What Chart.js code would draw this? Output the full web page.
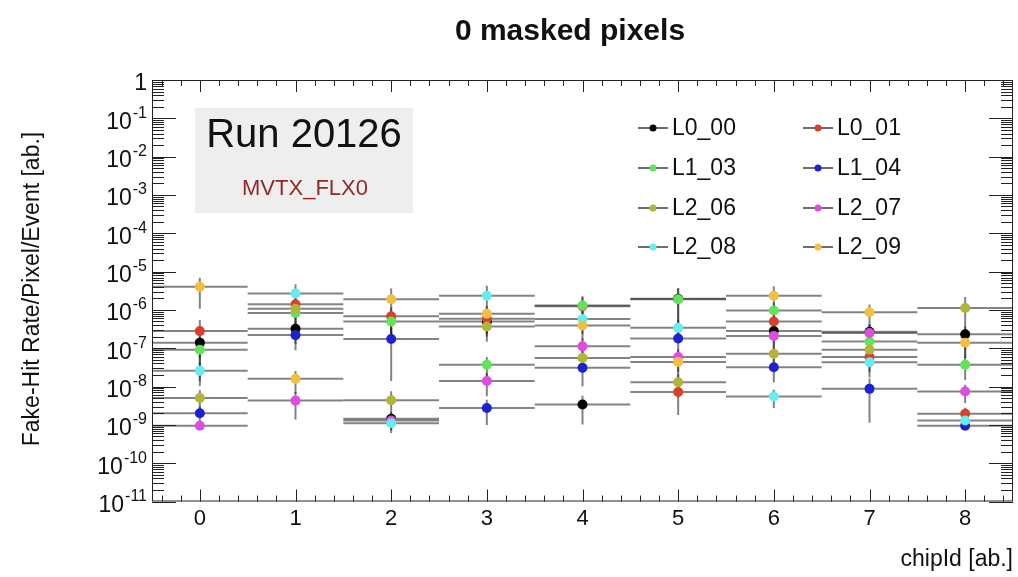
<!DOCTYPE html>
<html>
<head>
<meta charset="utf-8">
<title>0 masked pixels</title>
<script src="https://cdn.jsdelivr.net/npm/chart.js@4.4.1/dist/chart.umd.min.js"></script>
<style>
  html, body { margin: 0; padding: 0; background: #ffffff; }
  #chart { display: block; }
</style>
</head>
<body>
<canvas id="chart" width="1018" height="577"></canvas>
<script>
// chip ids on the x axis
const CHIP_IDS = [0, 1, 2, 3, 4, 5, 6, 7, 8];
const X_TICK_LABELS = ['0', '1', '2', '3', '4', '5', '6', '7', '8'];
const Y_TICK_EXPONENTS = [0, -1, -2, -3, -4, -5, -6, -7, -8, -9, -10, -11];

const SERIES_NAMES = ['L0_00', 'L0_01', 'L1_03', 'L1_04', 'L2_06', 'L2_07', 'L2_08', 'L2_09'];
const SERIES_COLORS = ['#000000', '#d8402c', '#62e35a', '#1c22d2', '#b3b43a', '#e04ce0', '#66eeee', '#f2c040'];

// fake-hit rate per chip, one array per stave
const rateL0_00 = [1.4e-7, 3.2e-7, 1.45e-9, 5.0e-7, 3.4e-9, 1.95e-6, 2.8e-7, 2.7e-7, 2.3e-7];
const rateL0_01 = [2.8e-7, 1.4e-6, 6.8e-7, 5.9e-7, 1.25e-6, 7.2e-9, 5.0e-7, 5.9e-8, 1.95e-9];
const rateL1_03 = [9.1e-8, 8.3e-7, 5.0e-7, 3.7e-8, 1.3e-6, 1.9e-6, 9.6e-7, 1.5e-7, 3.7e-8];
const rateL1_04 = [2.0e-9, 2.2e-7, 1.75e-7, 2.75e-9, 3.1e-8, 1.8e-7, 3.2e-8, 8.7e-9, 9.5e-10];
const rateL2_06 = [5.0e-9, 1.07e-6, 4.4e-9, 3.7e-7, 5.6e-8, 1.3e-8, 7.2e-8, 9.1e-8, 1.12e-6];
const rateL2_07 = [9.5e-10, 4.3e-9, 1.3e-9, 1.4e-8, 1.12e-7, 5.9e-8, 2.1e-7, 2.5e-7, 7.4e-9];
const rateL2_08 = [2.6e-8, 2.7e-6, 1.1e-9, 2.35e-6, 5.8e-7, 3.4e-7, 5.5e-9, 4.3e-8, 1.3e-9];
const rateL2_09 = [4.0e-6, 1.6e-8, 1.9e-6, 7.9e-7, 3.9e-7, 4.4e-8, 2.35e-6, 8.7e-7, 1.4e-7];

// relative (linear) uncertainty of each rate
const errL0_00 = [0.6, 0.6, 0.5, 0.6, 0.7, 0.9, 0.6, 0.6, 0.6];
const errL0_01 = [0.95, 0.6, 0.7, 0.6, 0.7, 0.75, 0.6, 0.6, 0.44];
const errL1_03 = [0.6, 0.6, 0.7, 0.6, 0.76, 0.9, 0.6, 0.6, 0.6];
const errL1_04 = [0.5, 0.6, 0.92, 0.64, 0.67, 0.6, 0.6, 0.87, 0.1];
const errL2_06 = [0.6, 0.6, 0.72, 0.6, 0.6, 0.6, 0.6, 0.6, 0.95];
const errL2_07 = [0.2, 0.68, 0.4, 0.6, 0.6, 0.6, 0.6, 0.6, 0.5];
const errL2_08 = [0.6, 0.72, 0.44, 0.83, 0.6, 0.6, 0.5, 0.6, 0.3];
const errL2_09 = [0.73, 0.6, 0.9, 0.6, 0.6, 0.6, 0.76, 0.6, 0.6];

const SERIES_RATES = [rateL0_00, rateL0_01, rateL1_03, rateL1_04, rateL2_06, rateL2_07, rateL2_08, rateL2_09];
const SERIES_ERRORS = [errL0_00, errL0_01, errL1_03, errL1_04, errL2_06, errL2_07, errL2_08, errL2_09];

const FONT = '"Liberation Sans", Arial, Helvetica, sans-serif';
const ERR_COLOR = 'rgba(30, 30, 30, 0.55)';

/**
 * Error bars (x: +-0.5 chip, y: relative error) drawn under the markers
 */
function drawErrorBars(chart) {
    const ctx = chart.ctx;
    const xs = chart.scales.x;
    const ys = chart.scales.y;
    const area = chart.chartArea;
    ctx.save();
    ctx.beginPath();
    ctx.rect(area.left, area.top, area.right - area.left, area.bottom - area.top);
    ctx.clip();
    ctx.strokeStyle = ERR_COLOR;
    ctx.lineWidth = 2;
    chart.data.datasets.forEach(ds => {
        ds.data.forEach((pt, i) => {
            const r = ds.errFrac[i];
            const py = ys.getPixelForValue(pt.y);
            const px = xs.getPixelForValue(pt.x);
            ctx.beginPath();
            ctx.moveTo(xs.getPixelForValue(pt.x - 0.5), py);
            ctx.lineTo(xs.getPixelForValue(pt.x + 0.5), py);
            ctx.moveTo(px, ys.getPixelForValue(pt.y * (1 + r)));
            ctx.lineTo(px, ys.getPixelForValue(pt.y * (1 - r)));
            ctx.stroke();
        });
    });
    ctx.restore();
}

/**
 * ROOT style frame with inner ticks on all four sides
 */
function drawFrame(chart) {
    const ctx = chart.ctx;
    const xs = chart.scales.x;
    const ys = chart.scales.y;
    const a = chart.chartArea;
    ctx.save();
    ctx.strokeStyle = '#222';
    ctx.lineWidth = 1;
    ctx.strokeRect(a.left + 0.5, a.top + 0.5, a.right - a.left - 1, a.bottom - a.top - 1);

    ctx.beginPath();
    // x ticks every 0.2, major on integers
    for (let k = -2; k <= 42; k++) {
        const v = k / 5;
        if (v < -0.5 || v > 8.5) continue;
        const px = Math.round(xs.getPixelForValue(v)) + 0.5;
        const len = (k % 5 === 0) ? 12 : 6;
        ctx.moveTo(px, a.bottom);
        ctx.lineTo(px, a.bottom - len);
        ctx.moveTo(px, a.top);
        ctx.lineTo(px, a.top + len);
    }
    // y ticks: decades and 2..9 sub-ticks
    Y_TICK_EXPONENTS.forEach(e => {
        for (let m = 1; m <= 9; m++) {
            const v = m * Math.pow(10, e);
            if (v > 1.0000001) continue;
            const py = Math.round(ys.getPixelForValue(v)) + 0.5;
            const len = (m === 1) ? 24 : 12;
            ctx.moveTo(a.left, py);
            ctx.lineTo(a.left + len, py);
            ctx.moveTo(a.right, py);
            ctx.lineTo(a.right - len, py);
        }
    });
    ctx.stroke();

    // tick labels
    ctx.fillStyle = '#111';
    ctx.textBaseline = 'middle';
    ctx.textAlign = 'center';
    ctx.font = '22px ' + FONT;
    CHIP_IDS.forEach((c, i) => {
        ctx.fillText(X_TICK_LABELS[i], xs.getPixelForValue(c), a.bottom + 17);
    });
    ctx.textAlign = 'right';
    Y_TICK_EXPONENTS.forEach(e => {
        const py = ys.getPixelForValue(Math.pow(10, e));
        const right = a.left - 5;
        if (e === 0) {
            ctx.font = '23px ' + FONT;
            ctx.fillText('1', right, py + 4);
            return;
        }
        ctx.font = '16px ' + FONT;
        const sup = '-' + Math.abs(e);
        const w = ctx.measureText(sup).width;
        ctx.fillText(sup, right, py - 5);
        ctx.font = '23px ' + FONT;
        ctx.fillText('10', right - w - 1, py + 4);
    });
    ctx.restore();
}

function drawTexts(chart) {
    const ctx = chart.ctx;
    ctx.save();
    ctx.fillStyle = '#111';
    ctx.textBaseline = 'alphabetic';
    ctx.textAlign = 'center';
    ctx.font = 'bold 30px ' + FONT;
    ctx.fillText('0 masked pixels', 570, 40);

    // axis titles
    ctx.font = '23px ' + FONT;
    ctx.textAlign = 'right';
    ctx.fillText('chipId [ab.]', 1013, 566);
    ctx.save();
    ctx.translate(39, 289);
    ctx.rotate(-Math.PI / 2);
    ctx.textAlign = 'center';
    ctx.fillText('Fake-Hit Rate/Pixel/Event [ab.]', 0, 0);
    ctx.restore();

    // run info box
    ctx.fillStyle = '#eeeeee';
    ctx.fillRect(195, 108, 218, 105);
    ctx.fillStyle = '#111';
    ctx.textAlign = 'center';
    ctx.font = '40px ' + FONT;
    ctx.fillText('Run 20126', 304, 147);
    ctx.fillStyle = '#8f2a2a';
    ctx.font = '22px ' + FONT;
    ctx.fillText('MVTX_FLX0', 305, 195);
    ctx.restore();
}

function drawLegend(chart) {
    const ctx = chart.ctx;
    const colX = [638, 803];
    const rowY = [128, 168, 208, 247];
    ctx.save();
    ctx.font = '23px ' + FONT;
    ctx.textAlign = 'left';
    ctx.textBaseline = 'middle';
    chart.data.datasets.forEach((ds, k) => {
        const x0 = colX[k % 2];
        const y0 = rowY[Math.floor(k / 2)];
        ctx.strokeStyle = 'rgba(60, 60, 60, 0.75)';
        ctx.lineWidth = 2;
        ctx.beginPath();
        ctx.moveTo(x0, y0);
        ctx.lineTo(x0 + 30, y0);
        ctx.stroke();
        ctx.fillStyle = ds.backgroundColor;
        ctx.beginPath();
        ctx.arc(x0 + 15, y0, 3.5, 0, Math.PI * 2);
        ctx.fill();
        ctx.fillStyle = '#111';
        ctx.fillText(ds.label, x0 + 34, y0 + 1);
    });
    ctx.restore();
}

const rootStyle = {
    id: 'rootStyle',
    beforeDatasetsDraw(chart) {
        drawErrorBars(chart);
    },
    afterDraw(chart) {
        drawFrame(chart);
        drawTexts(chart);
        drawLegend(chart);
    }
};

// later staves are painted over earlier ones, as in the original plot
const datasets = SERIES_NAMES.map((name, s) => ({
    label: name,
    data: CHIP_IDS.map((c, i) => ({ x: c, y: SERIES_RATES[s][i] })),
    errFrac: SERIES_ERRORS[s],
    order: SERIES_NAMES.length - s,
    backgroundColor: SERIES_COLORS[s],
    borderWidth: 0,
    pointRadius: 5,
    pointHoverRadius: 5,
    showLine: false
}));

new Chart(document.getElementById('chart'), {
    type: 'scatter',
    data: { datasets: datasets },
    options: {
        responsive: false,
        animation: false,
        devicePixelRatio: 1,
        layout: { padding: { left: 152, top: 80, right: 2, bottom: 75.5 } },
        plugins: {
            legend: { display: false },
            tooltip: { enabled: false },
            title: { display: false }
        },
        scales: {
            x: { type: 'linear', min: -0.5, max: 8.5, display: false },
            y: { type: 'logarithmic', min: 1e-11, max: 1, display: false }
        }
    },
    plugins: [rootStyle]
});
</script>
</body>
</html>
